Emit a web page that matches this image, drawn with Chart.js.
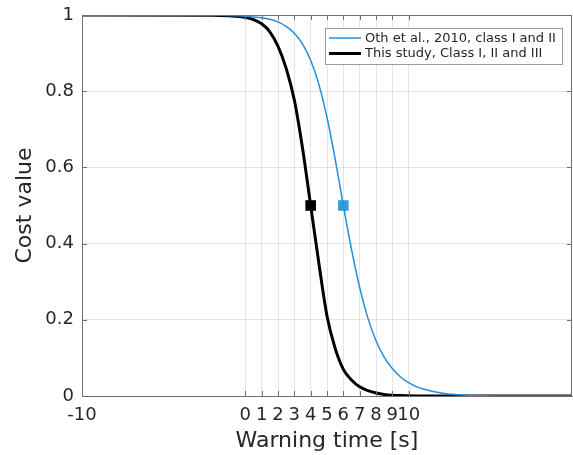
<!DOCTYPE html>
<html>
<head>
<meta charset="utf-8">
<script src="https://cdn.jsdelivr.net/npm/chart.js@4.4.1/dist/chart.umd.min.js"></script>
<style>
  body { margin: 0; background: #fff; }
  canvas { display: block; }
</style>
</head>
<body>
<canvas id="cost-chart" width="573" height="455"></canvas>
<script>
// values
const warningTime = [-10, -2, -1, 0, 0.5, 1, 1.5, 2, 2.5, 3, 3.5, 4, 4.5, 5, 5.5, 6, 6.5, 7, 7.5, 8, 8.5, 9, 9.5, 10, 10.5, 11, 12, 13, 14, 16, 20];
const othCost = [1, 0.9997, 0.999, 0.997, 0.995, 0.993, 0.989, 0.982, 0.97, 0.952, 0.924, 0.881, 0.818, 0.731, 0.622, 0.5, 0.385, 0.285, 0.205, 0.145, 0.102, 0.072, 0.05, 0.035, 0.024, 0.017, 0.008, 0.0035, 0.0015, 0.0003, 0];
const studyCost = [1, 0.9994, 0.998, 0.994, 0.988, 0.977, 0.956, 0.918, 0.86, 0.777, 0.651, 0.5, 0.349, 0.21, 0.125, 0.07, 0.042, 0.024, 0.014, 0.008, 0.004, 0.002, 0.001, 0.0006, 0.0003, 0.0001, 0, 0, 0, 0, 0];
const othMid = { x: 6, y: 0.5 };
const studyMid = { x: 4, y: 0.5 };
const xTicks = [-10, 0, 1, 2, 3, 4, 5, 6, 7, 8, 9, 10];
const yTicks = [0, 0.2, 0.4, 0.6, 0.8, 1];
const seriesLabels = ['Oth et al., 2010, class I and II', 'This study, Class I, II and III'];

const BLUE = '#2090d8';
const AXIS = '#707070';
const TEXT = '#262626';
const FONT = 'DejaVu Sans';

const toPoints = ys => warningTime.map((x, i) => ({ x, y: ys[i] }));

// MATLAB-like box, inward ticks and legend
const frame = {
  id: 'frame',
  afterDraw(chart) {
    const { ctx, chartArea: a, scales: { x, y } } = chart;
    ctx.save();
    ctx.strokeStyle = AXIS;
    ctx.lineWidth = 1;
    ctx.beginPath();
    ctx.moveTo(a.left, a.top + 0.5);
    ctx.lineTo(a.right - 0.5, a.top + 0.5);
    ctx.lineTo(a.right - 0.5, a.bottom);
    xTicks.forEach(v => {
      const px = Math.round(x.getPixelForValue(v)) + 0.5;
      ctx.moveTo(px, a.bottom);
      ctx.lineTo(px, a.bottom - 5);
      ctx.moveTo(px, a.top);
      ctx.lineTo(px, a.top + 5);
    });
    yTicks.forEach(v => {
      const py = Math.round(y.getPixelForValue(v)) + 0.5;
      ctx.moveTo(a.left, py);
      ctx.lineTo(a.left + 5, py);
      ctx.moveTo(a.right, py);
      ctx.lineTo(a.right - 5, py);
    });
    ctx.stroke();

    // legend
    const lx = 325, ly = 28, lw = 237, lh = 36;
    ctx.fillStyle = '#fff';
    ctx.fillRect(lx, ly, lw, lh);
    ctx.strokeStyle = '#9a9a9a';
    ctx.strokeRect(lx + 0.5, ly + 0.5, lw, lh);
    ctx.font = '13px "' + FONT + '"';
    ctx.textBaseline = 'middle';
    ctx.fillStyle = TEXT;
    chart.data.datasets.slice(0, 2).forEach((ds, i) => {
      const cy = ly + 10 + i * 15.5;
      ctx.strokeStyle = ds.borderColor;
      ctx.lineWidth = ds.borderWidth;
      ctx.beginPath();
      ctx.moveTo(lx + 4, cy);
      ctx.lineTo(lx + 36, cy);
      ctx.stroke();
      ctx.fillText(seriesLabels[i], lx + 40, cy + 0.5);
    });
    ctx.restore();
  },
};

new Chart('cost-chart', {
  type: 'line',
  data: {
    datasets: [
      { label: seriesLabels[0], data: toPoints(othCost), borderColor: BLUE, borderWidth: 1.5, pointRadius: 0, cubicInterpolationMode: 'monotone' },
      { label: seriesLabels[1], data: toPoints(studyCost), borderColor: '#000', borderWidth: 3, pointRadius: 0, cubicInterpolationMode: 'monotone' },
      { type: 'scatter', data: [othMid], backgroundColor: '#3a9bdc', borderWidth: 0, pointStyle: 'rect', pointRadius: 7.5 },
      { type: 'scatter', data: [studyMid], backgroundColor: '#000', borderWidth: 0, pointStyle: 'rect', pointRadius: 7.5 },
    ],
  },
  options: {
    responsive: false,
    animation: false,
    layout: { autoPadding: false, padding: { top: 15, right: 1, left: 0, bottom: 0 } },
    plugins: { legend: { display: false }, tooltip: { enabled: false } },
    scales: {
      x: {
        type: 'linear',
        min: -10,
        max: 20,
        afterBuildTicks: scale => { scale.ticks = xTicks.map(value => ({ value })); },
        afterFit: scale => {
          scale.height = 59;
          scale.paddingLeft = 0;
          scale.paddingRight = 0;
        },
        ticks: { autoSkip: false, maxRotation: 0, padding: 9, color: TEXT, font: { family: FONT, size: 18 } },
        grid: {
          drawTicks: false,
          color: ctx => (ctx.tick && ctx.tick.value > -10 ? 'rgba(0,0,0,0.1)' : 'rgba(0,0,0,0)'),
        },
        border: { color: AXIS },
        title: { display: true, text: 'Warning time [s]', color: TEXT, font: { family: FONT, size: 22 }, padding: { top: 0, bottom: 1 } },
      },
      y: {
        min: 0,
        max: 1,
        afterBuildTicks: scale => { scale.ticks = yTicks.map(value => ({ value })); },
        afterFit: scale => {
          scale.width = 82;
          scale.paddingTop = 0;
          scale.paddingBottom = 0;
        },
        ticks: { padding: 8, color: TEXT, font: { family: FONT, size: 18 }, callback: v => String(Math.round(v * 10) / 10) },
        grid: {
          drawTicks: false,
          color: ctx => (ctx.tick && ctx.tick.value > 0 && ctx.tick.value < 1 ? 'rgba(0,0,0,0.1)' : 'rgba(0,0,0,0)'),
        },
        border: { color: AXIS },
        title: { display: true, text: 'Cost value', color: TEXT, font: { family: FONT, size: 22 }, padding: { top: 12, bottom: 0 } },
      },
    },
  },
  plugins: [frame],
});
</script>
</body>
</html>
